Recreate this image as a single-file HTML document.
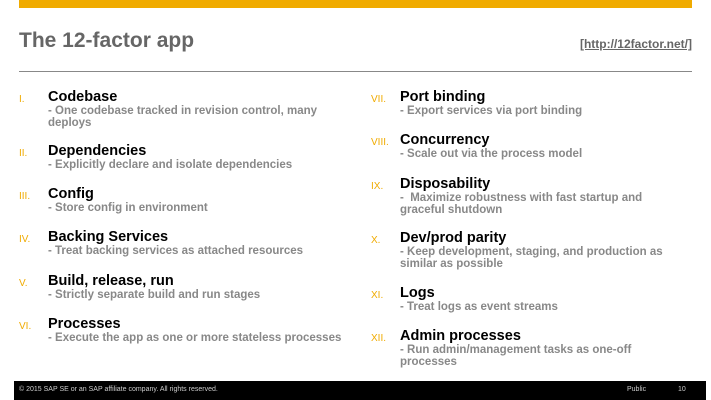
<!DOCTYPE html>
<html><head><style>
body{margin:0;width:711px;height:400px;position:relative;background:#fff;font-family:"Liberation Sans",Arial,sans-serif;overflow:hidden}
.bar{position:absolute;left:19px;top:0;width:673px;height:8px;background:#f0ab00}
.title{position:absolute;left:19px;top:29px;font-size:21px;font-weight:bold;color:#666}
.link{position:absolute;right:19px;top:37px;font-size:12px;font-weight:bold;color:#666;text-decoration:underline}
.hr{position:absolute;left:19px;top:71px;width:673px;height:1px;background:#888}
.it{position:absolute}
.n{position:absolute;left:0;top:4px;font-size:10px;color:#f0ab00}
.t{position:absolute;top:0;font-size:14.5px;font-weight:bold;color:#000;line-height:15px;white-space:nowrap}
.s{position:absolute;top:15px;font-size:11.5px;font-weight:bold;color:#888;line-height:12px;width:295px}
.r .s{width:280px}
.foot{position:absolute;left:14px;top:381px;width:692px;height:19px;background:#000;color:#ccc;font-size:7px}
</style></head><body>
<div class="bar"></div>
<div class="title">The 12-factor app</div>
<div class="link">[http://12factor.net/]</div>
<div class="hr"></div>

<div class="it" style="left:19px;top:90px"><span class="n">I.</span><div class="t" style="left:29px">Codebase</div><div class="s" style="left:29px">- One codebase tracked in revision control, many deploys</div></div>
<div class="it" style="left:19px;top:144px"><span class="n">II.</span><div class="t" style="left:29px">Dependencies</div><div class="s" style="left:29px">- Explicitly declare and isolate dependencies</div></div>
<div class="it" style="left:19px;top:187px"><span class="n">III.</span><div class="t" style="left:29px">Config</div><div class="s" style="left:29px">- Store config in environment</div></div>
<div class="it" style="left:19px;top:230px"><span class="n">IV.</span><div class="t" style="left:29px">Backing Services</div><div class="s" style="left:29px">- Treat backing services as attached resources</div></div>
<div class="it" style="left:19px;top:274px"><span class="n">V.</span><div class="t" style="left:29px">Build, release, run</div><div class="s" style="left:29px">- Strictly separate build and run stages</div></div>
<div class="it" style="left:19px;top:317px"><span class="n">VI.</span><div class="t" style="left:29px">Processes</div><div class="s" style="left:29px;width:330px">- Execute the app as one or more stateless processes</div></div>

<div class="it r" style="left:371px;top:90px"><span class="n">VII.</span><div class="t" style="left:29px">Port binding</div><div class="s" style="left:29px">- Export services via port binding</div></div>
<div class="it r" style="left:371px;top:133px"><span class="n">VIII.</span><div class="t" style="left:29px">Concurrency</div><div class="s" style="left:29px">- Scale out via the process model</div></div>
<div class="it r" style="left:371px;top:177px"><span class="n">IX.</span><div class="t" style="left:29px">Disposability</div><div class="s" style="left:29px">-&nbsp; Maximize robustness with fast startup and graceful shutdown</div></div>
<div class="it r" style="left:371px;top:231px"><span class="n">X.</span><div class="t" style="left:29px">Dev/prod parity</div><div class="s" style="left:29px">- Keep development, staging, and production as similar as possible</div></div>
<div class="it r" style="left:371px;top:286px"><span class="n">XI.</span><div class="t" style="left:29px">Logs</div><div class="s" style="left:29px">- Treat logs as event streams</div></div>
<div class="it r" style="left:371px;top:329px"><span class="n">XII.</span><div class="t" style="left:29px">Admin processes</div><div class="s" style="left:29px">- Run admin/management tasks as one-off processes</div></div>

<div class="foot"><span style="position:absolute;left:5px;top:5px">© 2015 SAP SE or an SAP affiliate company. All rights reserved.</span><span style="position:absolute;left:613px;top:5px">Public</span><span style="position:absolute;left:664px;top:5px">10</span></div>
</body></html>
